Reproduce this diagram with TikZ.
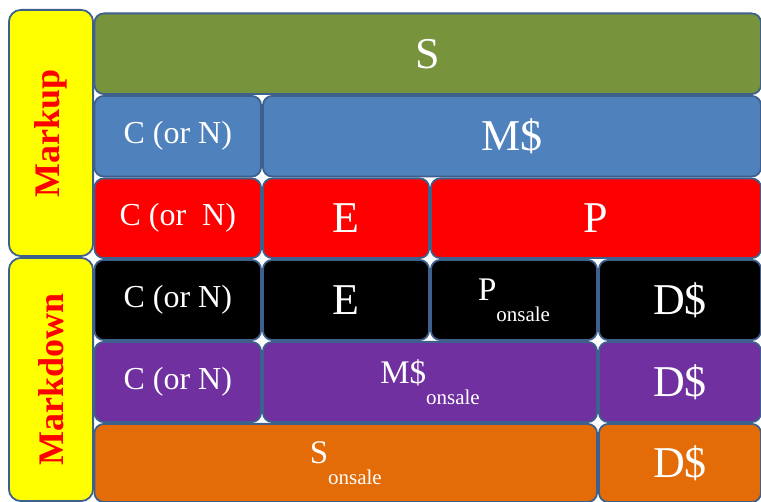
\documentclass[tikz,border=0pt]{standalone}
\usepackage{fontspec}
\setmainfont{Liberation Serif}
\definecolor{bord}{HTML}{3E608C}
\definecolor{cgreen}{HTML}{77933C}
\definecolor{cblue}{HTML}{4F81BD}
\definecolor{cred}{HTML}{FF0000}
\definecolor{cpurple}{HTML}{7030A0}
\definecolor{corange}{HTML}{E36C09}
\definecolor{cyellow}{HTML}{FFFF00}
\newcommand\fsbig{\fontsize{44}{44}\selectfont}
\newcommand\fsmid{\fontsize{33}{33}\selectfont}
\newcommand\fsmain{\fontsize{32}{32}\selectfont}
\newcommand\fssub{\fontsize{21}{21}\selectfont}
\newcommand\fsside{\fontsize{36}{36}\selectfont\bfseries}
\newcommand\onsale{\raisebox{-21pt}{\fssub onsale}}
\newcommand\mycell[8]{%
  \pgfmathsetmacro\cx{(#4+#6)/2}\pgfmathsetmacro\cy{(#5+#7)/2}%
  \pgfmathsetmacro\cw{#6-#4-1.8}\pgfmathsetmacro\ch{#7-#5-1.8}%
  \node[#2,fill=#3,minimum width=\cw pt,minimum height=\ch pt] (#1) at (\cx,\cy) {#8};}
\begin{document}
\begin{tikzpicture}[x=1pt,y=-1pt,
  cell/.style={draw=bord,line width=1.8pt,rounded corners=9.5pt,inner sep=0pt,text=white,align=center},
  side/.style={draw=bord,line width=1.8pt,rounded corners=12pt,inner sep=0pt,text=cred}]
\useasboundingbox (0,0) rectangle (761,502);
\begin{scope}
\clip (0,0) rectangle (761,502);
% side labels
\mycell{markup}{side}{cyellow}{8}{9}{94}{257}{}
\mycell{markdown}{side}{cyellow}{8}{257}{94}{502}{}
\node[rotate=90,text=cred,inner sep=0pt] (markuptext) at (markup.center) {\fsside Markup};
\node[rotate=90,text=cred,inner sep=0pt] (markdowntext) at (markdown.center) {\fsside Markdown};
% row 1
\mycell{s}{cell}{cgreen}{93.5}{12.5}{762}{95}{\fsbig S}
% row 2
\mycell{c2}{cell}{cblue}{93.5}{95}{262}{177.5}{\fsmain C (or N)}
\mycell{m2}{cell}{cblue}{262}{95}{762}{177.5}{\fsbig M\$}
% row 3
\mycell{c3}{cell}{cred}{93.5}{177.5}{262}{259}{\fsmain C (or~~N)}
\mycell{e3}{cell}{cred}{262}{177.5}{430}{259}{\fsbig E}
\mycell{p3}{cell}{cred}{430}{177.5}{762}{259}{\fsbig P}
% row 4
\mycell{c4}{cell}{black}{93.5}{259}{262}{341}{\fsmain C (or N)}
\mycell{e4}{cell}{black}{262}{259}{430}{341}{\fsbig E}
\mycell{p4}{cell}{black}{430}{259}{598}{341}{\fsmid P\onsale}
\mycell{d4}{cell}{black}{598}{259}{762}{341}{\fsbig D\$}
% row 5
\mycell{c5}{cell}{cpurple}{93.5}{341}{262}{423}{\fsmain C (or N)}
\mycell{m5}{cell}{cpurple}{262}{341}{598}{423}{\fsmid M\$\onsale}
\mycell{d5}{cell}{cpurple}{598}{341}{762}{423}{\fsbig D\$}
% row 6
\mycell{s6}{cell}{corange}{93.5}{423}{598}{503}{\fsmid S\onsale}
\mycell{d6}{cell}{corange}{598}{423}{762}{503}{\fsbig D\$}
\end{scope}
\end{tikzpicture}
\end{document}
